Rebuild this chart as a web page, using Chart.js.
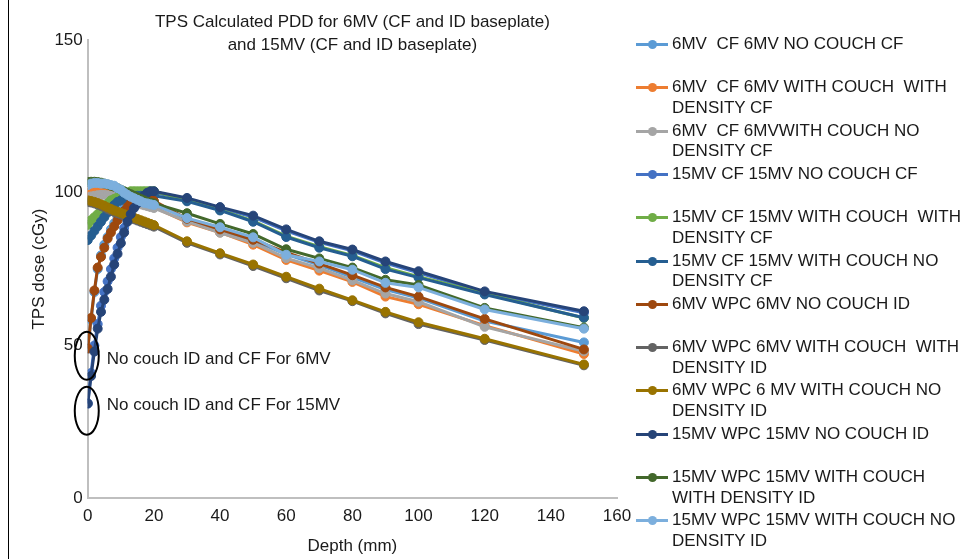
<!DOCTYPE html>
<html>
<head>
<meta charset="utf-8">
<title>TPS Calculated PDD</title>
<script src="https://cdn.jsdelivr.net/npm/chart.js@4.4.0/dist/chart.umd.min.js"></script>
<style>
  body { margin: 0; background: #fff; }
  #wrap { position: relative; width: 965px; height: 559px; overflow: hidden;
          font-family: "Liberation Sans", Arial, sans-serif; }
  #frame { position: absolute; left: 8px; top: 0; width: 1px; height: 559px; background: #000; }
  #legend { position: absolute; left: 636px; top: 34px; }
  .item { position: absolute; left: 0; width: 330px; height: 43px; }
  .swatch { position: absolute; left: 0; top: 9px; width: 32px; height: 3px; }
  .dot { position: absolute; left: 11.5px; top: -3px; width: 9px; height: 9px; border-radius: 50%; }
  .txt { position: absolute; left: 36px; top: 0; white-space: pre; font-size: 17px;
         line-height: 20.5px; color: #1a1a1a; }
</style>
</head>
<body>
<div id="wrap">
  <canvas id="pddChart" width="965" height="559"></canvas>
  <div id="frame"></div>
  <div id="legend"></div>
</div>
<script>
// depth (mm)
const depths = [0, 1, 2, 3, 4, 5, 6, 7, 8, 9, 10, 11, 12, 13, 14, 15, 16, 17, 18, 19, 20,
                30, 40, 50, 60, 70, 80, 90, 100, 120, 150];

// TPS dose (cGy) per series, same order as depths
const cf6NoCouch = [49, 58.5, 67.5, 75, 79.5, 83, 85.5, 88, 90, 92, 93.5, 95, 96, 97, 97.5, 98, 98, 98, 97.7, 97.4, 97,
                    91.2, 87.8, 84.3, 79.8, 76.3, 72.3, 68.3, 65.5, 58, 51];
const cf6CouchDensity = [100, 100.3, 100.5, 100.6, 100.6, 100.5, 100.3, 100, 99.6, 99.2, 98.8, 98.4, 98, 97.6, 97.2, 96.8, 96.5, 96.2, 95.9, 95.6, 95.3,
                         90.3, 87, 83, 78, 74.5, 70.8, 66, 63.5, 56.5, 47.2];
const cf6CouchNoDensity = [98.5, 98.8, 99, 99.2, 99.3, 99.3, 99.2, 99, 98.8, 98.5, 98.2, 97.8, 97.5, 97.2, 96.8, 96.5, 96.2, 95.9, 95.6, 95.3, 95,
                           90.6, 86.9, 83.6, 78.6, 75.3, 71.3, 67, 64.3, 56.1, 48.1];
const cf15NoCouch = [31, 41, 50, 57, 63, 67.5, 71, 75, 78.5, 82, 85.5, 88.5, 91.5, 94, 96, 97.5, 98.5, 99.5, 100, 100, 100,
                     98, 95, 92, 87.5, 83.8, 81, 77, 73.8, 67.3, 60.7];
const cf15CouchDensity = [89.5, 91, 92, 93, 94, 95, 96.5, 97.5, 98, 98.5, 99, 99.5, 100, 100.5, 100.5, 100.5, 100.5, 100.5, 100.5, 100.5, 100.5,
                          97.5, 94.4, 90.8, 85.8, 82.3, 79.5, 75.5, 72.5, 67, 59];
const cf15CouchNoDensity = [84.5, 86, 87.5, 89, 90.5, 92, 93.5, 95, 96, 97, 97.5, 98, 98.5, 99, 99, 99, 99, 99, 99, 99, 99,
                            97.2, 94.2, 90.5, 85.5, 82, 79.2, 75, 72.2, 66.7, 59.1];
const wpc6NoCouch = [49, 59, 68, 75.5, 79, 82, 85, 87, 89, 91, 92.5, 94, 95.3, 96.5, 97.5, 98, 98.3, 98.3, 98, 97.7, 97.3,
                     91.5, 88, 84.6, 80.5, 76.8, 73, 69, 66, 58.7, 48.7];
const wpc6CouchDensity = [97, 96.8, 96.5, 96.1, 95.7, 95.2, 94.7, 94.2, 93.7, 93.3, 92.9, 92.5, 92.1, 91.7, 91.3, 90.9, 90.5, 90.1, 89.7, 89.3, 88.9,
                          83.6, 79.8, 76, 72, 68, 64.5, 60.5, 57, 51.8, 43.5];
const wpc6CouchNoDensity = [97.5, 97.3, 97, 96.6, 96.2, 95.7, 95.2, 94.7, 94.2, 93.8, 93.4, 93, 92.6, 92.2, 91.8, 91.4, 91, 90.6, 90.2, 89.8, 89.4,
                            84.1, 80.2, 76.5, 72.5, 68.6, 64.8, 61, 57.6, 52.2, 43.8];
const wpc15NoCouch = [31, 40, 48, 55.5, 61, 65, 68.5, 72.5, 76.5, 80, 83.5, 87, 90.5, 93, 95, 96.5, 98, 99, 100, 100.5, 100.5,
                      98.3, 95.3, 92.5, 88, 84.1, 81.4, 77.5, 74.3, 67.7, 61.2];
const wpc15CouchDensity = [103.5, 103.6, 103.6, 103.5, 103.3, 103, 102.7, 102.3, 102, 101.5, 101, 100.5, 100, 99.5, 99, 98.5, 98, 97.5, 97, 96.8, 96.5,
                           93.3, 89.8, 86.5, 81.5, 78.5, 75.5, 71.5, 69.8, 62.3, 55.8];
const wpc15CouchNoDensity = [102.5, 103, 103.2, 103.2, 103, 103, 102.8, 102.5, 102.3, 101.5, 101, 100, 99.3, 98.7, 98.2, 97.7, 97.2, 96.7, 96.5, 96.2, 96,
                             91.7, 88.7, 85.4, 79.7, 77.5, 74.8, 70.5, 69, 61.8, 55.5];

const seriesNames = [
  '6MV  CF 6MV NO COUCH CF',
  '6MV  CF 6MV WITH COUCH  WITH\nDENSITY CF',
  '6MV  CF 6MVWITH COUCH NO\nDENSITY CF',
  '15MV CF 15MV NO COUCH CF',
  '15MV CF 15MV WITH COUCH  WITH\nDENSITY CF',
  '15MV CF 15MV WITH COUCH NO\nDENSITY CF',
  '6MV WPC 6MV NO COUCH ID',
  '6MV WPC 6MV WITH COUCH  WITH\nDENSITY ID',
  '6MV WPC 6 MV WITH COUCH NO\nDENSITY ID',
  '15MV WPC 15MV NO COUCH ID',
  '15MV WPC 15MV WITH COUCH\nWITH DENSITY ID',
  '15MV WPC 15MV WITH COUCH NO\nDENSITY ID'
];
const seriesValues = [cf6NoCouch, cf6CouchDensity, cf6CouchNoDensity, cf15NoCouch, cf15CouchDensity, cf15CouchNoDensity,
                      wpc6NoCouch, wpc6CouchDensity, wpc6CouchNoDensity, wpc15NoCouch, wpc15CouchDensity, wpc15CouchNoDensity];
const seriesColors = ['#5B9BD5', '#ED7D31', '#A5A5A5', '#4472C4', '#70AD47', '#255E91',
                      '#9E480E', '#636363', '#997300', '#264478', '#43682B', '#7CAFDD'];

const xTicks = [0, 20, 40, 60, 80, 100, 120, 140, 160];
const yTicks = [0, 50, 100, 150];

const titleLines = ['TPS Calculated PDD for 6MV (CF and ID baseplate)', 'and 15MV (CF and ID baseplate)'];
const noteLabels = ['No couch ID and CF For 6MV', 'No couch ID and CF For 15MV'];
const noteCircled = [46.6, 28.6];   // dose circled at depth 0
const noteTextAt = [45.4, 30.4];

const FONT = '"Liberation Sans", Arial, sans-serif';
const TEXT = '#1a1a1a';

const datasets = seriesValues.map((vals, i) => ({
  label: seriesNames[i].replace('\n', ' '),
  data: depths.map((d, j) => ({ x: d, y: vals[j] })),
  borderColor: seriesColors[i],
  backgroundColor: seriesColors[i],
  pointBackgroundColor: seriesColors[i],
  pointBorderColor: seriesColors[i],
  borderWidth: 3,
  pointRadius: 4.5,
  pointBorderWidth: 1,
  tension: 0,
  order: seriesValues.length - i
}));

// title + circled notes drawn over the plot
const overlay = {
  id: 'overlay',
  afterDatasetsDraw(chart) {
    const { ctx, chartArea, scales } = chart;
    const x0 = scales.x.getPixelForValue(0);
    ctx.save();
    ctx.strokeStyle = '#000';
    ctx.lineWidth = 2;
    noteCircled.forEach(v => {
      ctx.beginPath();
      ctx.ellipse(x0 - 1, scales.y.getPixelForValue(v), 12, 24, 0, 0, Math.PI * 2);
      ctx.stroke();
    });
    ctx.fillStyle = TEXT;
    ctx.font = '17px ' + FONT;
    ctx.textAlign = 'left';
    ctx.textBaseline = 'middle';
    noteLabels.forEach((t, i) => ctx.fillText(t, x0 + 19, scales.y.getPixelForValue(noteTextAt[i])));

    ctx.textAlign = 'center';
    const cx = (chartArea.left + chartArea.right) / 2;
    titleLines.forEach((t, i) => ctx.fillText(t, cx, 22 + i * 23));
    ctx.restore();
  }
};

new Chart(document.getElementById('pddChart'), {
  type: 'line',
  data: { datasets },
  plugins: [overlay],
  options: {
    responsive: false,
    animation: false,
    layout: { padding: { left: 25, right: 348, top: 40, bottom: 0 } },
    plugins: {
      legend: { display: false },
      title: { display: false },
      tooltip: { enabled: false }
    },
    scales: {
      x: {
        type: 'linear',
        min: 0,
        max: 160,
        afterBuildTicks: s => { s.ticks = xTicks.map(v => ({ value: v })); },
        grid: { display: false, drawTicks: false },
        border: { display: true, color: '#BFBFBF', width: 2 },
        ticks: { color: TEXT, font: { family: FONT, size: 17 }, padding: 8, maxRotation: 0 },
        title: { display: true, text: 'Depth (mm)', color: TEXT,
                 font: { family: FONT, size: 17 }, padding: { top: 2, bottom: 2 } }
      },
      y: {
        min: 0,
        max: 150,
        afterBuildTicks: s => { s.ticks = yTicks.map(v => ({ value: v })); },
        grid: { display: false, drawTicks: false },
        border: { display: true, color: '#BFBFBF', width: 2 },
        ticks: { color: TEXT, font: { family: FONT, size: 17 }, padding: 5 },
        title: { display: true, text: 'TPS dose (cGy)', color: TEXT,
                 font: { family: FONT, size: 17 }, padding: { top: 4, bottom: 0 } }
      }
    }
  }
});

// html legend, wrapped labels like the original
const legend = document.getElementById('legend');
seriesNames.forEach((name, i) => {
  const item = document.createElement('div');
  item.className = 'item';
  item.style.top = (i * 43.3) + 'px';
  item.innerHTML = '<div class="swatch" style="background:' + seriesColors[i] + '">' +
                   '<div class="dot" style="background:' + seriesColors[i] + '"></div></div>' +
                   '<div class="txt"></div>';
  item.querySelector('.txt').textContent = name;
  legend.appendChild(item);
});
</script>
</body>
</html>
